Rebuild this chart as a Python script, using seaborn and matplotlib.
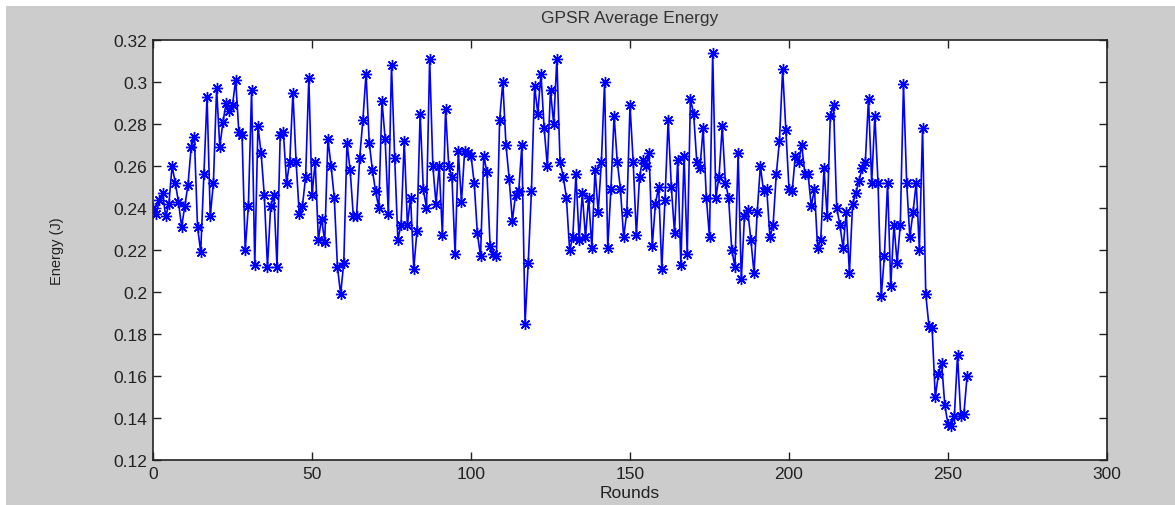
import matplotlib
matplotlib.use('Agg')
import matplotlib.pyplot as plt
import pandas as pd
import seaborn as sns
import numpy as np
from matplotlib.patches import Rectangle

# Average energy per round
energy = [
    0.240, 0.237, 0.244, 0.247, 0.236, 0.242, 0.260, 0.252, 0.243, 0.231,
    0.241, 0.251, 0.269, 0.274, 0.231, 0.219, 0.256, 0.293, 0.236, 0.252,
    0.297, 0.269, 0.281, 0.290, 0.286, 0.289, 0.301, 0.276, 0.275, 0.220,
    0.241, 0.296, 0.213, 0.279, 0.266, 0.246, 0.212, 0.241, 0.246, 0.212,
    0.275, 0.276, 0.252, 0.262, 0.295, 0.262, 0.237, 0.241, 0.255, 0.302,
    0.246, 0.262, 0.225, 0.235, 0.224, 0.273, 0.260, 0.245, 0.212, 0.199,
    0.214, 0.271, 0.258, 0.236, 0.236, 0.264, 0.282, 0.304, 0.271, 0.258,
    0.248, 0.240, 0.291, 0.273, 0.237, 0.308, 0.264, 0.225, 0.232, 0.272,
    0.232, 0.245, 0.211, 0.229, 0.285, 0.249, 0.240, 0.311, 0.260, 0.242,
    0.260, 0.227, 0.287, 0.260, 0.255, 0.218, 0.267, 0.243, 0.267, 0.266,
    0.265, 0.252, 0.228, 0.217, 0.265, 0.257, 0.222, 0.218, 0.217, 0.282,
    0.300, 0.270, 0.254, 0.234, 0.246, 0.248, 0.270, 0.185, 0.214, 0.248,
    0.298, 0.285, 0.304, 0.278, 0.260, 0.296, 0.280, 0.311, 0.262, 0.255,
    0.245, 0.220, 0.226, 0.256, 0.225, 0.247, 0.226, 0.245, 0.221, 0.258,
    0.238, 0.262, 0.300, 0.221, 0.249, 0.284, 0.262, 0.249, 0.226, 0.238,
    0.289, 0.262, 0.227, 0.255, 0.263, 0.260, 0.266, 0.222, 0.242, 0.250,
    0.211, 0.244, 0.282, 0.250, 0.228, 0.263, 0.213, 0.265, 0.218, 0.292,
    0.285, 0.262, 0.259, 0.278, 0.245, 0.226, 0.314, 0.245, 0.255, 0.279,
    0.252, 0.245, 0.220, 0.212, 0.266, 0.206, 0.236, 0.239, 0.225, 0.209,
    0.238, 0.260, 0.248, 0.249, 0.226, 0.232, 0.256, 0.272, 0.306, 0.277,
    0.249, 0.248, 0.265, 0.262, 0.270, 0.256, 0.256, 0.241, 0.249, 0.221,
    0.225, 0.259, 0.236, 0.284, 0.289, 0.240, 0.232, 0.221, 0.238, 0.209,
    0.242, 0.247, 0.253, 0.259, 0.262, 0.292, 0.252, 0.284, 0.252, 0.198,
    0.217, 0.252, 0.203, 0.232, 0.214, 0.232, 0.299, 0.252, 0.226, 0.238,
    0.252, 0.220, 0.278, 0.199, 0.184, 0.183, 0.150, 0.161, 0.166, 0.146,
    0.137, 0.136, 0.141, 0.170, 0.141, 0.142, 0.160,
]
rounds = list(range(len(energy)))

xticks = [0, 50, 100, 150, 200, 250, 300]
yticks = [0.12, 0.14, 0.16, 0.18, 0.2, 0.22, 0.24, 0.26, 0.28, 0.3, 0.32]
ytick_labels = ['0.12', '0.14', '0.16', '0.18', '0.2', '0.22', '0.24',
                '0.26', '0.28', '0.3', '0.32']

df = pd.DataFrame({'Rounds': rounds, 'Energy': energy})

sns.set_style('ticks')
plt.rcParams['font.family'] = ['Liberation Sans', 'DejaVu Sans']

fig = plt.figure(figsize=(11.75, 5.06), dpi=100, facecolor='white')
# grey MATLAB-style figure background
fig.patches.append(Rectangle((6 / 1175, 0), 1 - 6 / 1175, 1 - 7 / 506,
                             transform=fig.transFigure, facecolor='#cccccc',
                             edgecolor='none', zorder=-1))
ax = fig.add_axes([153 / 1175, 45 / 506, 954 / 1175, 420 / 506])
ax.set_facecolor('white')

sns.lineplot(data=df, x='Rounds', y='Energy', ax=ax, color='#0000ff',
             linewidth=1.2, marker=(8, 2, 0), markersize=8,
             markeredgecolor='#0000ff', markeredgewidth=1.0)

ax.set_xlim(0, 300)
ax.set_ylim(0.12, 0.32)
ax.set_xticks(xticks)
ax.set_xticklabels([str(t) for t in xticks])
ax.set_yticks(yticks)
ax.set_yticklabels(ytick_labels)
ax.tick_params(direction='in', top=True, right=True, length=6, width=1,
               labelsize=12.5, colors='#222222', pad=4)
for s in ax.spines.values():
    s.set_linewidth(1.2)
    s.set_color('#222222')

ax.set_title('GPSR Average Energy', fontsize=12.5, color='#333333', pad=13)
ax.set_xlabel('Rounds', fontsize=12.5, color='#222222', labelpad=3)
ax.set_ylabel('Energy (J)', fontsize=10.5, color='#222222', labelpad=36)

fig.savefig('out.png', dpi=100, facecolor=fig.get_facecolor())
